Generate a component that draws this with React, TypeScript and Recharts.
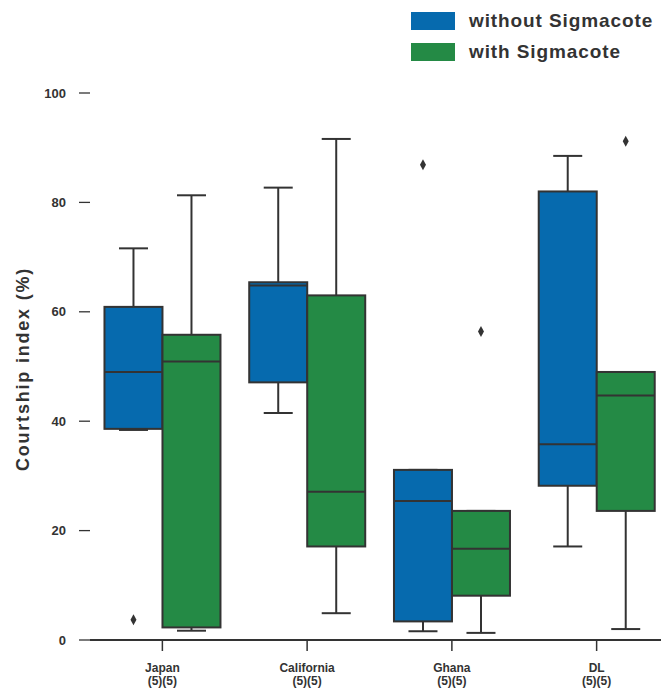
import React from 'react';
import { ComposedChart, Bar, XAxis, YAxis } from 'recharts';

const categories = ['Japan', 'California', 'Ghana', 'DL'];
const sampleSizes = ['(5)(5)', '(5)(5)', '(5)(5)', '(5)(5)'];
const yTicks = [0, 20, 40, 60, 80, 100];
const seriesNames = ['without Sigmacote', 'with Sigmacote'];
const seriesColors = ['#066AAE', '#248A45'];

const withoutLow = [38.4, 41.5, 1.6, 17.1];
const withoutQ1 = [38.6, 47.1, 3.4, 28.2];
const withoutMedian = [49.0, 64.8, 25.4, 35.8];
const withoutQ3 = [60.9, 65.4, 31.1, 82.0];
const withoutHigh = [71.6, 82.7, 31.1, 88.5];
const withoutOutliers: number[][] = [[3.7], [], [86.9], []];

const withLow = [1.7, 4.9, 1.3, 2.0];
const withQ1 = [2.3, 17.1, 8.1, 23.6];
const withMedian = [50.9, 27.1, 16.7, 44.7];
const withQ3 = [55.8, 63.0, 23.6, 49.0];
const withHigh = [81.3, 91.6, 23.6, 49.0];
const withOutliers: number[][] = [[], [], [56.4], [91.2]];

const EDGE = '#333333';
const FONT = '"Liberation Sans", Arial, Helvetica, sans-serif';

const rows = categories.map((c, i) => ({
  category: c,
  sizes: sampleSizes[i],
  wo: {
    low: withoutLow[i],
    q1: withoutQ1[i],
    median: withoutMedian[i],
    q3: withoutQ3[i],
    high: withoutHigh[i],
    outliers: withoutOutliers[i],
  },
  wi: {
    low: withLow[i],
    q1: withQ1[i],
    median: withMedian[i],
    q3: withQ3[i],
    high: withHigh[i],
    outliers: withOutliers[i],
  },
}));

function makeBoxShape(key: 'wo' | 'wi', color: string) {
  return (props: any) => {
    const { x, y, width, height, payload } = props;
    const s = payload[key];
    const top = Math.min(y, y + height);
    const bottom = Math.max(y, y + height);
    const px = (v: number) => bottom - ((v - s.low) * (bottom - top)) / (s.high - s.low);
    const cx = x + width / 2;
    const cap = width / 4;
    const yq1 = px(s.q1);
    const yq3 = px(s.q3);
    const ymed = px(s.median);
    const ylo = px(s.low);
    const yhi = px(s.high);
    return (
      <g>
        <line x1={cx} x2={cx} y1={ylo} y2={yq1} stroke={EDGE} strokeWidth={2} />
        <line x1={cx} x2={cx} y1={yq3} y2={yhi} stroke={EDGE} strokeWidth={2} />
        <line x1={cx - cap} x2={cx + cap} y1={ylo} y2={ylo} stroke={EDGE} strokeWidth={2} />
        <line x1={cx - cap} x2={cx + cap} y1={yhi} y2={yhi} stroke={EDGE} strokeWidth={2} />
        <rect x={x} y={yq3} width={width} height={yq1 - yq3} fill={color} stroke={EDGE} strokeWidth={2} />
        <line x1={x} x2={x + width} y1={ymed} y2={ymed} stroke={EDGE} strokeWidth={2} />
        {s.outliers.map((o: number, k: number) => {
          const oy = px(o);
          return (
            <path
              key={k}
              d={`M${cx},${oy - 5.5} L${cx + 3},${oy} L${cx},${oy + 5.5} L${cx - 3},${oy} Z`}
              fill={EDGE}
            />
          );
        })}
      </g>
    );
  };
}

const XTick = (props: any) => {
  const { x, y, payload, index } = props;
  return (
    <text x={x} y={y} textAnchor="middle" fill={EDGE} fontSize={12} fontWeight="bold" fontFamily={FONT}>
      <tspan x={x} dy={19}>{payload.value}</tspan>
      <tspan x={x} dy={13}>{sampleSizes[index]}</tspan>
    </text>
  );
};

const YLabel = (props: any) => {
  const vb = props.viewBox || { x: 0, y: 85, width: 82, height: 547 };
  const cy = vb.y + vb.height / 2 + 2.5;
  const cx = 15;
  return (
    <text
      x={cx}
      y={cy}
      transform={`rotate(-90, ${cx}, ${cy})`}
      textAnchor="middle"
      dominantBaseline="central"
      fill={EDGE}
      fontSize={18}
      fontWeight="bold"
      fontFamily={FONT}
      letterSpacing={1.8}
    >
      Courtship index (%)
    </text>
  );
};

export default function App() {
  return (
    <div style={{ position: 'relative', width: 661, height: 682, fontFamily: FONT }}>
      <ComposedChart
        width={661}
        height={682}
        data={rows}
        margin={{ top: 85, right: 0, bottom: 0, left: 0 }}
        barCategoryGap="10%"
        barGap={0}
      >
        <XAxis
          dataKey="category"
          height={50}
          interval={0}
          axisLine={{ stroke: EDGE, strokeWidth: 2 }}
          tickLine={{ stroke: EDGE, strokeWidth: 1.5 }}
          tickSize={11}
          tick={<XTick />}
        />
        <YAxis
          type="number"
          domain={[0, 100]}
          ticks={yTicks}
          width={82}
          axisLine={false}
          tickLine={{ stroke: EDGE, strokeWidth: 1.3 }}
          tickSize={11}
          tickMargin={13}
          tick={{ fill: EDGE, fontSize: 13, fontWeight: 'bold', fontFamily: FONT }}
          label={<YLabel />}
        />
        <Bar
          dataKey={(d: any) => [d.wo.low, d.wo.high]}
          name={seriesNames[0]}
          fill={seriesColors[0]}
          shape={makeBoxShape('wo', seriesColors[0])}
          activeBar={false}
          isAnimationActive={false}
        />
        <Bar
          dataKey={(d: any) => [d.wi.low, d.wi.high]}
          name={seriesNames[1]}
          fill={seriesColors[1]}
          shape={makeBoxShape('wi', seriesColors[1])}
          activeBar={false}
          isAnimationActive={false}
        />
      </ComposedChart>
      <div style={{ position: 'absolute', left: 403, top: 4 }}>
        {seriesNames.map((n, i) => (
          <div key={n} style={{ display: 'flex', alignItems: 'center', height: 18, marginBottom: 13 }}>
            <div style={{ width: 44, height: 18, background: seriesColors[i], flex: 'none' }} />
            <span
              style={{
                marginLeft: 14,
                fontSize: 19,
                fontWeight: 'bold',
                color: EDGE,
                whiteSpace: 'nowrap',
                lineHeight: '18px',
                letterSpacing: 0.9,
              }}
            >
              {n}
            </span>
          </div>
        ))}
      </div>
    </div>
  );
}
